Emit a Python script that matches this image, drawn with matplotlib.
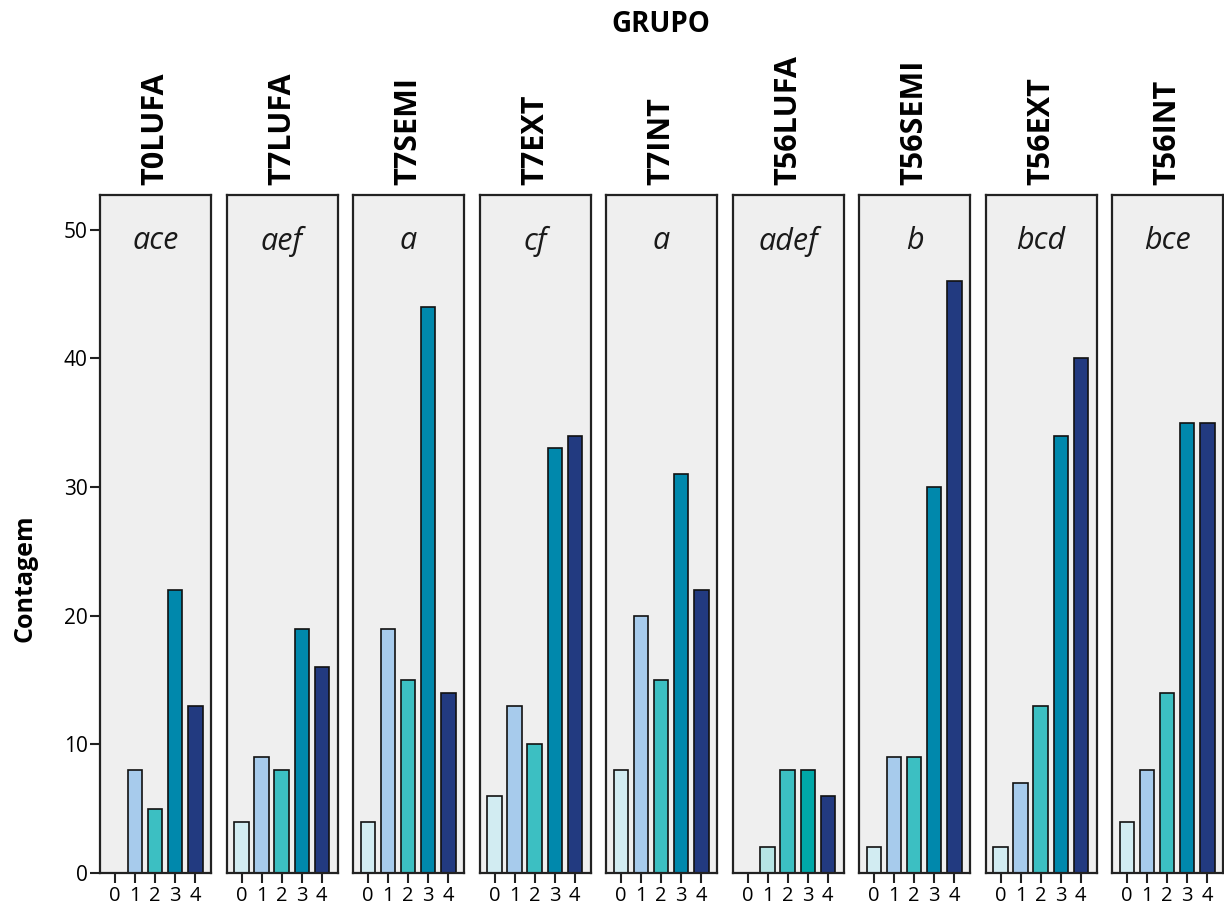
import matplotlib
matplotlib.use("Agg")
import matplotlib.pyplot as plt

plt.rcParams['font.family'] = ['Open Sans', 'DejaVu Sans']

groups = ["T0LUFA", "T7LUFA", "T7SEMI", "T7EXT", "T7INT",
          "T56LUFA", "T56SEMI", "T56EXT", "T56INT"]
letters = ["ace", "aef", "a", "cf", "a", "adef", "b", "bcd", "bce"]
categories = [0, 1, 2, 3, 4]
counts = [
    [0, 8, 5, 22, 13],
    [4, 9, 8, 19, 16],
    [4, 19, 15, 44, 14],
    [6, 13, 10, 33, 34],
    [8, 20, 15, 31, 22],
    [0, 2, 8, 8, 6],
    [2, 9, 9, 30, 46],
    [2, 7, 13, 34, 40],
    [4, 8, 14, 35, 35],
]
yticks = [0, 10, 20, 30, 40, 50]

base_colors = ["#d2ecf2", "#a7cbec", "#3cbfc2", "#0088ac", "#223a80"]
# T56LUFA uses its own shading for categories 1 and 3
panel_colors = {5: ["#d2ecf2", "#b6e4e4", "#3cbfc2", "#00a8a8", "#223a80"]}

W, H = 1224, 913
fig = plt.figure(figsize=(W / 100, H / 100), dpi=100)

left0, step, pw = 100, 126.5, 111
top, bottom = 195, 873
ymax = 52.7

for i, g in enumerate(groups):
    x0 = left0 + i * step
    ax = fig.add_axes([x0 / W, 1 - bottom / H, pw / W, (bottom - top) / H])
    ax.set_facecolor("#efefef")
    cols = panel_colors.get(i, base_colors)
    ax.bar(categories, counts[i], width=0.72, color=cols,
           edgecolor="#111111", linewidth=1.2, zorder=2)
    ax.set_xlim(-0.75, 4.78)
    ax.set_ylim(0, ymax)
    ax.set_xticks(categories)
    ax.set_xticklabels([str(c) for c in categories], fontsize=14.5)
    ax.tick_params(axis="x", direction="out", length=7, width=1.5,
                   color="#222222", pad=2)
    if i == 0:
        ax.set_yticks(yticks)
        ax.set_yticklabels([str(v) for v in yticks], fontsize=15)
        ax.tick_params(axis="y", direction="out", length=7, width=1.5,
                       color="#222222", pad=2)
    else:
        ax.set_yticks([])
    for s in ax.spines.values():
        s.set_linewidth(1.6)
        s.set_color("#222222")
    ax.text(0.5, 1 - (241 - top) / (bottom - top), letters[i],
            transform=ax.transAxes, ha="center", va="center",
            fontsize=22, style="italic", color="#1a1a1a")
    ax.text(0.5, 1 + 10 / (bottom - top), g, transform=ax.transAxes,
            ha="center", va="bottom", rotation=90, fontsize=22,
            fontweight="bold")

fig.text(661 / W, 1 - 25 / H, "GRUPO", ha="center", va="center",
         fontsize=20, fontweight="bold")
fig.text(25 / W, 1 - 578 / H, "Contagem", ha="center", va="center",
         rotation=90, fontsize=18, fontweight="bold")

fig.savefig("out.png", dpi=100)
